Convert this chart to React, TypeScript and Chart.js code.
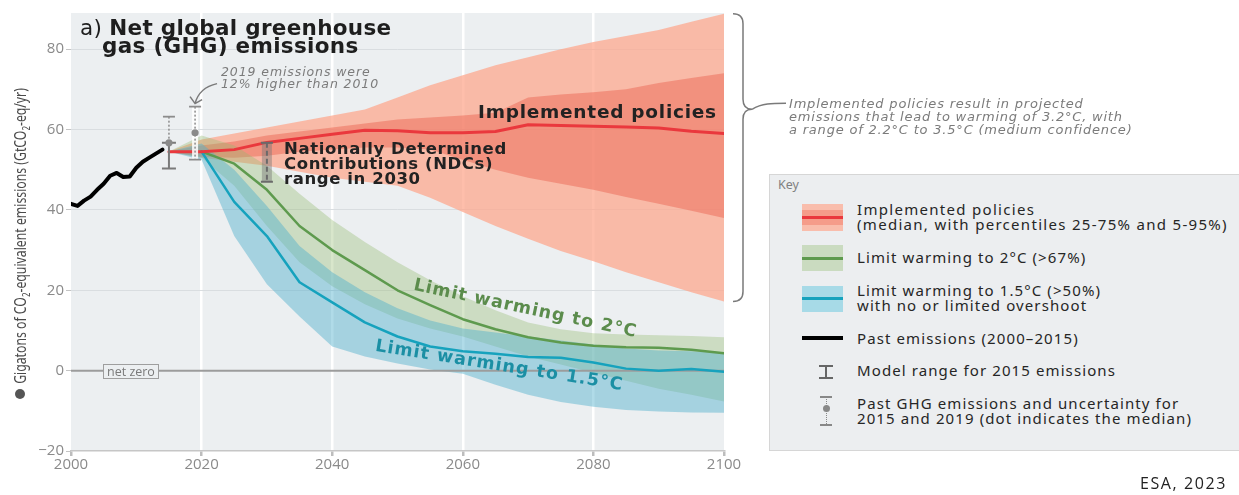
import React, { useEffect, useRef } from 'react';
import { Chart, registerables } from 'chart.js';
Chart.register(...registerables);

// ---------- data ----------
const pastYears = [2000, 2001, 2002, 2003, 2004, 2005, 2006, 2007, 2008, 2009, 2010, 2011, 2012, 2013, 2014];
const pastEmissions = [41.5, 41.0, 42.3, 43.3, 45.0, 46.5, 48.5, 49.2, 48.2, 48.3, 50.5, 52.0, 53.0, 54.0, 55.0];

const projYears = [2015, 2020, 2025, 2030, 2035, 2040, 2045, 2050, 2055, 2060, 2065, 2070, 2075, 2080, 2085, 2090, 2095, 2100];
const implMedian = [54.5, 54.5, 55.0, 56.8, 57.8, 58.8, 59.8, 59.7, 59.2, 59.2, 59.5, 61.2, 61.0, 60.8, 60.6, 60.4, 59.6, 59.0];
const implP75 = [54.5, 56.0, 57.0, 58.5, 59.5, 60.5, 61.5, 62.5, 63.0, 63.5, 64.2, 68.0, 68.7, 69.3, 70.0, 71.6, 72.8, 74.0];
const implP25 = [54.5, 53.2, 53.0, 53.5, 54.5, 55.0, 55.5, 55.5, 55.0, 52.5, 50.0, 48.0, 46.5, 45.0, 43.2, 41.5, 39.8, 38.0];
const implP95 = [54.5, 57.5, 59.0, 60.5, 62.0, 63.5, 65.0, 68.0, 71.0, 73.5, 76.0, 78.0, 80.0, 81.8, 83.3, 84.8, 86.8, 88.8];
const implP5 = [54.5, 53.0, 52.0, 51.0, 49.5, 48.0, 47.0, 46.0, 43.0, 39.5, 36.0, 32.8, 29.8, 27.2, 24.5, 22.0, 19.5, 17.2];

const twoMedian = [null, 54.5, 51.5, 45.0, 36.0, 30.0, 25.0, 20.0, 16.3, 12.8, 10.3, 8.3, 7.0, 6.2, 5.8, 5.7, 5.2, 4.3];
const twoHigh = [54.5, 58.5, 56.0, 51.0, 44.0, 37.5, 32.0, 27.0, 22.5, 18.5, 15.0, 12.0, 10.3, 9.3, 9.0, 8.8, 8.6, 8.3];
const twoLow = [54.5, 53.0, 46.0, 36.0, 27.0, 21.0, 16.5, 13.0, 10.5, 8.5, 6.0, 3.5, 1.5, -0.5, -2.5, -4.5, -6.0, -7.7];

const onePointFiveMedian = [null, 54.5, 42.0, 33.5, 22.0, 17.0, 12.0, 8.5, 6.0, 4.8, 4.2, 3.4, 3.2, 2.0, 0.5, 0.0, 0.4, -0.3];
const onePointFiveHigh = [54.5, 56.5, 50.0, 41.0, 31.0, 24.5, 19.5, 15.5, 12.5, 10.5, 9.5, 8.5, 7.5, 6.5, 5.5, 5.0, 4.8, 4.5];
const onePointFiveLow = [54.5, 52.5, 33.5, 21.5, 13.5, 6.0, 3.5, 1.8, 0.3, -0.8, -3.5, -6.0, -7.8, -9.0, -9.8, -10.2, -10.4, -10.5];

// 2015 model range, past uncertainty (2015, 2019), NDC range 2030
const modelRangeYear = 2015;
const modelRange = [50.3, 56.7];
const pastUncYears = [2015, 2019];
const pastUncLow = [56.7, 52.5];
const pastUncHigh = [63.2, 65.7];
const pastUncMedian = [56.7, 59.2];
const ndcYear = 2030;
const ndcRange = [47.0, 56.7];

const xTicks = [2000, 2020, 2040, 2060, 2080, 2100];
const yTicks = [-20, 0, 20, 40, 60, 80];

const pts = (xs: number[], ys: (number | null)[]) => xs.map((x, i) => ({ x, y: ys[i] }));

const overlayPlugin = {
  id: 'overlay',
  beforeDraw(chart: any) {
    const { ctx, chartArea: a } = chart;
    ctx.save();
    ctx.fillStyle = '#eceff1';
    ctx.fillRect(a.left, a.top, a.right - a.left, a.bottom - a.top);
    ctx.restore();
  },
  beforeDatasetDraw(chart: any, args: any) {
    if (args.index !== 8) return;
    const { ctx, chartArea: a, scales } = chart;
    const y0 = scales.y.getPixelForValue(0);
    ctx.save();
    ctx.strokeStyle = '#9c9c9c';
    ctx.lineWidth = 2;
    ctx.beginPath();
    ctx.moveTo(a.left, y0);
    ctx.lineTo(a.right, y0);
    ctx.stroke();
    ctx.restore();
  },
  afterDatasetsDraw(chart: any) {
    const { ctx, chartArea: a, scales } = chart;
    const xs = scales.x, ys = scales.y;
    ctx.save();
    // NDC range bar
    {
      const x = xs.getPixelForValue(ndcYear);
      const y1 = ys.getPixelForValue(ndcRange[1]);
      const y0 = ys.getPixelForValue(ndcRange[0]);
      ctx.fillStyle = 'rgba(120,120,120,0.45)';
      ctx.fillRect(x - 5, y1, 10, y0 - y1);
      ctx.strokeStyle = '#6a6a6a';
      ctx.lineWidth = 2;
      ctx.setLineDash([5, 3]);
      ctx.beginPath(); ctx.moveTo(x, y1); ctx.lineTo(x, y0); ctx.stroke();
      ctx.setLineDash([]);
      ctx.beginPath();
      ctx.moveTo(x - 6, y1); ctx.lineTo(x + 6, y1);
      ctx.moveTo(x - 6, y0); ctx.lineTo(x + 6, y0);
      ctx.stroke();
    }
    // past uncertainty bars
    pastUncYears.forEach((yr, i) => {
      const x = xs.getPixelForValue(yr);
      const yh = ys.getPixelForValue(pastUncHigh[i]);
      const yl = ys.getPixelForValue(pastUncLow[i]);
      if (i === 1) {
        ctx.fillStyle = 'rgba(255,255,255,0.85)';
        ctx.fillRect(x - 3, yh, 6, yl - yh);
      }
      ctx.strokeStyle = '#8c8c8c';
      ctx.lineWidth = 1.5;
      ctx.setLineDash([2, 2]);
      ctx.beginPath(); ctx.moveTo(x, yh); ctx.lineTo(x, yl); ctx.stroke();
      ctx.setLineDash([]);
      ctx.lineWidth = 1.8;
      ctx.beginPath();
      ctx.moveTo(x - 6, yh); ctx.lineTo(x + 6, yh);
      if (i === 1) { ctx.moveTo(x - 6, yl); ctx.lineTo(x + 6, yl); }
      ctx.stroke();
    });
    // model range 2015
    {
      const x = xs.getPixelForValue(modelRangeYear);
      const yh = ys.getPixelForValue(modelRange[1]);
      const yl = ys.getPixelForValue(modelRange[0]);
      ctx.strokeStyle = '#7a7a7a';
      ctx.lineWidth = 2;
      ctx.beginPath();
      ctx.moveTo(x, yh); ctx.lineTo(x, yl);
      ctx.moveTo(x - 7, yh); ctx.lineTo(x + 7, yh);
      ctx.moveTo(x - 7, yl); ctx.lineTo(x + 7, yl);
      ctx.stroke();
    }
    // medians (dots)
    pastUncYears.forEach((yr, i) => {
      const x = xs.getPixelForValue(yr);
      const y = ys.getPixelForValue(pastUncMedian[i]);
      ctx.fillStyle = '#8a8a8a';
      ctx.beginPath(); ctx.arc(x, y, 3.6, 0, Math.PI * 2); ctx.fill();
    });
    // arrow from 2019 note
    {
      const x = xs.getPixelForValue(pastUncYears[1]);
      const yTop = ys.getPixelForValue(pastUncHigh[1]) - 3;
      ctx.strokeStyle = '#7a7a7a';
      ctx.lineWidth = 1.5;
      ctx.beginPath();
      ctx.moveTo(x + 22, yTop - 20);
      ctx.quadraticCurveTo(x + 4, yTop - 16, x, yTop);
      ctx.moveTo(x - 5, yTop - 7); ctx.lineTo(x, yTop); ctx.lineTo(x + 7, yTop - 4);
      ctx.stroke();
    }
    // brace
    {
      const yT = ys.getPixelForValue(implP95[implP95.length - 1]);
      const yB = ys.getPixelForValue(implP5[implP5.length - 1]);
      const yM = a.top + (a.bottom - a.top) * 0.22;
      const x0 = a.right + 9, x1 = a.right + 19, xt = a.right + 28;
      ctx.strokeStyle = '#7a7a7a';
      ctx.lineWidth = 1.5;
      ctx.beginPath();
      ctx.moveTo(x0, yT);
      ctx.quadraticCurveTo(x1, yT, x1, yT + 10);
      ctx.lineTo(x1, yM - 10);
      ctx.quadraticCurveTo(x1, yM, xt, yM);
      ctx.quadraticCurveTo(x1, yM, x1, yM + 10);
      ctx.lineTo(x1, yB - 10);
      ctx.quadraticCurveTo(x1, yB, x0, yB);
      ctx.moveTo(xt, yM);
      ctx.bezierCurveTo(xt + 10, yM - 6, xt + 20, yM - 6, xt + 34, yM - 6);
      ctx.stroke();
    }
    ctx.restore();
  },
};

const T = (p: { x: number; y: number; s: React.CSSProperties; children: React.ReactNode }) => (
  <div style={{ position: 'absolute', left: p.x, top: p.y, whiteSpace: 'nowrap', ...p.s }}>{p.children}</div>
);

const keyFont: React.CSSProperties = { fontFamily: 'Noto Sans', fontSize: 15, letterSpacing: '1.1px', color: '#262626', lineHeight: '15px' };
const noteFont: React.CSSProperties = { fontFamily: 'DejaVu Sans', fontStyle: 'italic', fontSize: 13, letterSpacing: '0.8px', color: '#7b7b7b', lineHeight: '13px' };
const boldFont = 'DejaVu Sans';

export default function App() {
  const ref = useRef<HTMLCanvasElement>(null);
  useEffect(() => {
    if (!ref.current) return;
    const line = (data: any, color: string, width: number, order: number) => ({
      data, borderColor: color, borderWidth: width, pointRadius: 0, fill: false, tension: 0, order,
      borderJoinStyle: 'round', borderCapStyle: 'round',
    });
    const edge = (data: any, fill: any, bg: string, order: number) => ({
      data, borderWidth: 0, borderColor: 'rgba(0,0,0,0)', pointRadius: 0, fill, backgroundColor: bg, tension: 0, order,
    });
    const chart = new Chart(ref.current, {
      type: 'line',
      data: {
        datasets: [
          edge(pts(projYears, implP95), '+1', 'rgba(253,165,138,0.72)', 10) as any,
          edge(pts(projYears, implP5), false, 'rgba(0,0,0,0)', 10),
          edge(pts(projYears, implP75), '+1', 'rgba(236,104,86,0.5)', 9),
          edge(pts(projYears, implP25), false, 'rgba(0,0,0,0)', 9),
          edge(pts(projYears, twoHigh), '+1', 'rgba(147,185,112,0.36)', 8),
          edge(pts(projYears, twoLow), false, 'rgba(0,0,0,0)', 8),
          edge(pts(projYears, onePointFiveHigh), '+1', 'rgba(80,175,203,0.45)', 7),
          edge(pts(projYears, onePointFiveLow), false, 'rgba(0,0,0,0)', 7),
          line(pts(projYears, twoMedian), '#5e9a4e', 2.5, 3),
          line(pts(projYears, onePointFiveMedian), '#16a2bd', 2.5, 2),
          line(pts(projYears, implMedian), '#ea383d', 3, 1),
          line(pts(pastYears, pastEmissions), '#000000', 4, 0),
        ],
      },
      options: {
        animation: false,
        responsive: false,
        maintainAspectRatio: false,
        layout: { padding: { left: 0, top: 13, right: 515, bottom: 0 } },
        plugins: { legend: { display: false }, tooltip: { enabled: false } },
        scales: {
          x: {
            type: 'linear', min: 2000, max: 2100,
            afterBuildTicks: (s: any) => { s.ticks = xTicks.map((v) => ({ value: v })); },
            afterFit: (s: any) => { s.height = 44; },
            ticks: { callback: (v: any) => String(v), color: '#8a8a8a', font: { family: 'Open Sans', size: 15 }, padding: 0, maxRotation: 0, autoSkip: false },
            grid: {
              color: (c: any) => (c.tick && (c.tick.value === 2000 || c.tick.value === 2100) ? 'rgba(0,0,0,0)' : '#ffffff'),
              lineWidth: 2.5, tickLength: 5, tickColor: '#bdbdbd',
            },
            border: { display: true, color: '#c6c6c6', width: 1.5 },
          },
          y: {
            type: 'linear', min: -20, max: 89,
            afterBuildTicks: (s: any) => { s.ticks = yTicks.map((v) => ({ value: v })); },
            afterFit: (s: any) => { s.width = 71; },
            ticks: { callback: (v: any) => (v < 0 ? '\u2212' + Math.abs(v) : String(v)), color: '#8a8a8a', font: { family: 'Open Sans', size: 15 }, padding: 2 },
            grid: {
              color: (c: any) => (c.tick && (c.tick.value === -20 || c.tick.value === 0) ? 'rgba(0,0,0,0)' : '#d9dde0'),
              lineWidth: 1, tickLength: 5, tickColor: '#c4c4c4',
            },
            border: { display: false },
          },
        },
      },
      plugins: [overlayPlugin],
    } as any);
    return () => chart.destroy();
  }, []);

  return (
    <div style={{ position: 'absolute', left: 0, top: 0, width: 1239, height: 495, background: '#ffffff', overflow: 'hidden' }}>
      <canvas ref={ref} width={1239} height={495} style={{ position: 'absolute', left: 0, top: 0, width: 1239, height: 495 }} />

      {/* y-axis title */}
      <div style={{ position: 'absolute', left: 21, top: 236, width: 0, height: 0 }}>
        <div style={{ position: 'absolute', left: 0, top: 0, transform: 'translate(-50%,-50%) rotate(-90deg) scaleX(0.79)', whiteSpace: 'nowrap', fontFamily: 'Noto Sans', fontSize: 15.5, color: '#4a4a4a' }}>
          Gigatons of CO<sub style={{ fontSize: 10 }}>2</sub>-equivalent emissions (GtCO<sub style={{ fontSize: 10 }}>2</sub>-eq/yr)
        </div>
      </div>
      <div style={{ position: 'absolute', left: 15, top: 389, width: 10, height: 10, borderRadius: 5, background: '#555' }} />

      {/* title */}
      <T x={80} y={19} s={{ fontFamily: boldFont, fontSize: 21.5, letterSpacing: '0.3px', lineHeight: '17.5px', color: '#1e1e1e' }}>
        <span>a) </span><b>Net global greenhouse</b><br /><b style={{ marginLeft: 22 }}>gas (GHG) emissions</b>
      </T>

      {/* 2019 note */}
      <T x={221} y={66} s={{ ...noteFont, fontSize: 12.5, letterSpacing: '0.9px', lineHeight: '12px' }}>2019 emissions were<br />12% higher than 2010</T>

      {/* NDC label */}
      <T x={284} y={141} s={{ fontFamily: boldFont, fontWeight: 'bold', fontSize: 16.5, letterSpacing: '0.6px', lineHeight: '15px', color: '#222' }}>
        Nationally Determined<br />Contributions (NDCs)<br />range in 2030
      </T>

      {/* implemented policies label */}
      <T x={478} y={102} s={{ fontFamily: boldFont, fontWeight: 'bold', fontSize: 18.5, letterSpacing: '0.75px', lineHeight: '20px', color: '#222' }}>Implemented policies</T>

      {/* curved labels */}
      <T x={416} y={275} s={{ fontFamily: boldFont, fontWeight: 'bold', fontSize: 17.5, letterSpacing: '1px', lineHeight: '18px', color: '#5b8c4c', transform: 'rotate(12deg)', transformOrigin: 'left top' }}>Limit warming to 2°C</T>
      <T x={377} y={336} s={{ fontFamily: boldFont, fontWeight: 'bold', fontSize: 17.5, letterSpacing: '1.1px', lineHeight: '18px', color: '#1b8fa4', transform: 'rotate(9deg)', transformOrigin: 'left top' }}>Limit warming to 1.5°C</T>

      {/* net zero box */}
      <T x={103} y={364} s={{ fontFamily: 'Open Sans', fontSize: 12.5, lineHeight: '13px', color: '#7a7a7a', background: '#eceff1', border: '1px solid #9e9e9e', padding: '0 3px' }}>net zero</T>

      {/* brace note */}
      <T x={789} y={97} s={noteFont}>
        Implemented policies result in projected<br />emissions that lead to warming of 3.2°C, with<br />a range of 2.2°C to 3.5°C (medium confidence)
      </T>

      {/* key */}
      <div style={{ position: 'absolute', left: 769, top: 174, width: 480, height: 277, background: '#eceef0', border: '1px solid #d6d6d6', boxSizing: 'border-box' }} />
      <T x={778} y={177} s={{ fontFamily: 'Noto Sans', fontSize: 12.5, color: '#808080', lineHeight: '15px' }}>Key</T>

      <div style={{ position: 'absolute', left: 802, top: 204, width: 41, height: 27, background: '#f9bdac' }} />
      <div style={{ position: 'absolute', left: 802, top: 210, width: 41, height: 15, background: '#f59c8a' }} />
      <div style={{ position: 'absolute', left: 802, top: 216, width: 41, height: 3, background: '#ea383d' }} />
      <T x={857} y={202} s={{ ...keyFont, letterSpacing: '1.3px' }}>Implemented policies<br />(median, with percentiles 25-75% and 5-95%)</T>

      <div style={{ position: 'absolute', left: 802, top: 245, width: 41, height: 26, background: '#cadbc0' }} />
      <div style={{ position: 'absolute', left: 802, top: 257, width: 41, height: 2.5, background: '#5e9a4e' }} />
      <T x={857} y={250} s={keyFont}>Limit warming to 2°C (&gt;67%)</T>

      <div style={{ position: 'absolute', left: 802, top: 286, width: 41, height: 26, background: '#a7dae7' }} />
      <div style={{ position: 'absolute', left: 802, top: 297, width: 41, height: 2.5, background: '#16a2bd' }} />
      <T x={857} y={283} s={keyFont}>Limit warming to 1.5°C (&gt;50%)<br />with no or limited overshoot</T>

      <div style={{ position: 'absolute', left: 802, top: 336, width: 41, height: 4, background: '#000' }} />
      <T x={857} y={331} s={keyFont}>Past emissions (2000–2015)</T>

      <div style={{ position: 'absolute', left: 819, top: 365, width: 14, height: 2, background: '#666' }} />
      <div style={{ position: 'absolute', left: 825, top: 365, width: 2, height: 13, background: '#666' }} />
      <div style={{ position: 'absolute', left: 819, top: 377, width: 14, height: 2, background: '#666' }} />
      <T x={857} y={363} s={keyFont}>Model range for 2015 emissions</T>

      <div style={{ position: 'absolute', left: 820, top: 396, width: 12, height: 1.5, background: '#888' }} />
      <div style={{ position: 'absolute', left: 825.5, top: 397, width: 0, height: 27, borderLeft: '1.5px dotted #888' }} />
      <div style={{ position: 'absolute', left: 822.5, top: 405, width: 7, height: 7, borderRadius: 4, background: '#888' }} />
      <div style={{ position: 'absolute', left: 820, top: 424, width: 12, height: 1.5, background: '#888' }} />
      <T x={857} y={396} s={keyFont}>Past GHG emissions and uncertainty for<br />2015 and 2019 (dot indicates the median)</T>

      <T x={1140} y={474} s={{ fontFamily: 'Open Sans', fontSize: 16, letterSpacing: '1.6px', color: '#222', lineHeight: '18px' }}>ESA, 2023</T>
    </div>
  );
}
